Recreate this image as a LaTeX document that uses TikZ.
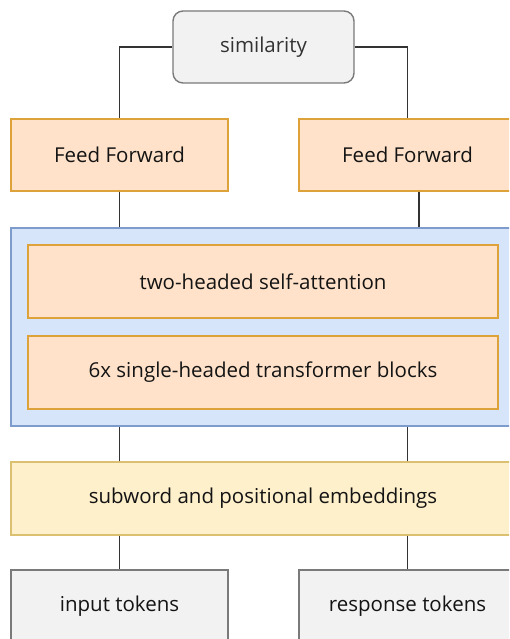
\documentclass[tikz,border=0pt]{standalone}
\usepackage{fontspec}
\setmainfont{Open Sans}
\definecolor{ffFill}{HTML}{FFE2C9}
\definecolor{ffLine}{HTML}{DDA23A}
\definecolor{blFill}{HTML}{D6E5FA}
\definecolor{blLine}{HTML}{7D9BCB}
\definecolor{ylFill}{HTML}{FFF0CC}
\definecolor{ylLine}{HTML}{DCC072}
\definecolor{gyFill}{HTML}{F2F2F2}
\definecolor{gyLine}{HTML}{7A7A7A}
\definecolor{txt}{HTML}{141414}
\definecolor{wire}{HTML}{333333}
\tikzset{
  base/.style={rectangle, line width=1.4pt, inner sep=0pt, text=txt,
    font=\fontsize{20.5}{24}\selectfont},
  ffbox/.style={base, draw=ffLine, fill=ffFill},
  bluebox/.style={base, draw=blLine, fill=blFill},
  yellowbox/.style={base, draw=ylLine, fill=ylFill},
  greybox/.style={base, draw=gyLine, fill=gyFill},
  simbox/.style={base, draw=gyLine, fill=gyFill, rounded corners=10pt, text=wire},
  wireline/.style={draw=wire, line width=1.5pt}
}
\begin{document}
\begin{tikzpicture}[x=1pt,y=-1pt]
\useasboundingbox (0,0) rectangle (509,639);
\clip (0,0) rectangle (509,639);
\fill[white] (0,0) rectangle (509,639);
% nodes
\node[simbox, minimum width=181pt, minimum height=72pt] (sim) at (263.5,47) {\raisebox{-1.5pt}{similarity}};
\node[ffbox, minimum width=217pt, minimum height=72pt] (ffl) at (119.5,155) {Feed Forward};
\node[ffbox, minimum width=217pt, minimum height=72pt] (ffr) at (407.5,155) {Feed Forward};
\node[bluebox, minimum width=504pt, minimum height=198pt] (blue) at (263,327) {};
\node[ffbox, minimum width=470pt, minimum height=73pt] (att) at (263,281.5) {two-headed self-attention};
\node[ffbox, minimum width=470pt, minimum height=73pt] (blk) at (263,372.5) {6x single-headed transformer blocks};
\node[yellowbox, minimum width=504pt, minimum height=73pt] (emb) at (263,498.5) {subword and positional embeddings};
\node[greybox, minimum width=217pt, minimum height=73pt] (inp) at (119.5,606.5) {input tokens};
\node[greybox, minimum width=217pt, minimum height=73pt] (resp) at (407.5,606.5) {response tokens};
% connectors
\draw[wireline] (sim.west) -| (ffl.north);
\draw[wireline] (sim.east) -| (ffr.north);
\draw[wireline] (ffl.south) -- (ffl.south |- blue.north);
\draw[wireline] ([xshift=11.5pt]ffr.south) -- ([xshift=11.5pt]ffr.south |- blue.north);
\draw[wireline] (inp.north |- emb.north) -- (inp.north |- blue.south);
\draw[wireline] (resp.north |- emb.north) -- (resp.north |- blue.south);
\draw[wireline] (inp.north |- emb.south) -- (inp.north);
\draw[wireline] (resp.north |- emb.south) -- (resp.north);
\end{tikzpicture}
\end{document}
